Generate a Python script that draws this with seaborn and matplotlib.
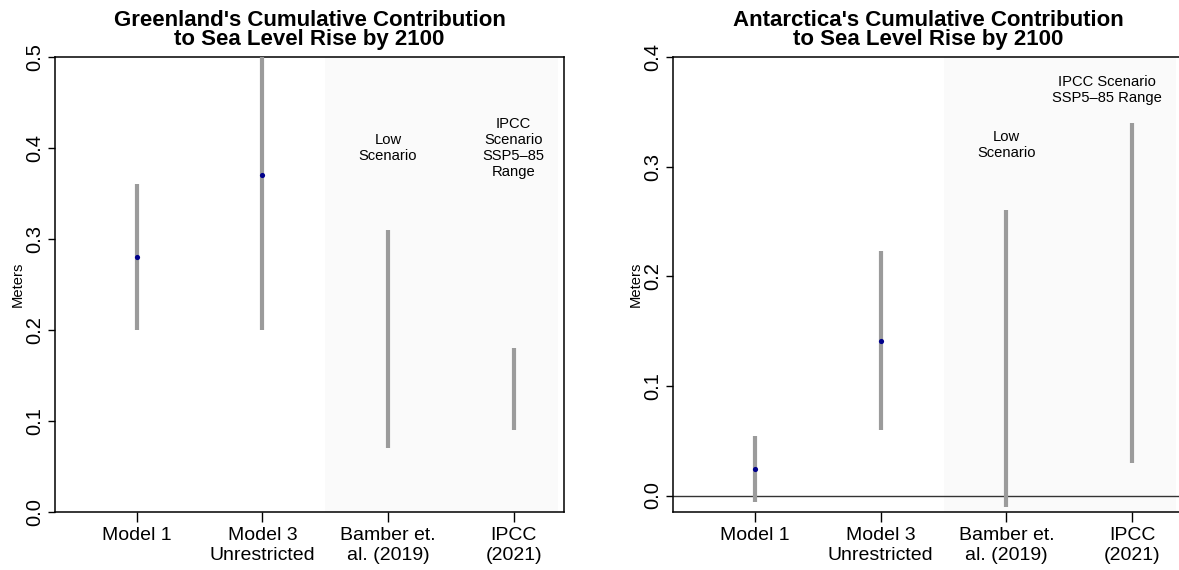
import numpy as np
import pandas as pd
import matplotlib
matplotlib.use("Agg")
import matplotlib.pyplot as plt
import seaborn as sns

# ---------------- data ----------------
categories = ["Model 1", "Model 3\nUnrestricted", "Bamber et.\nal. (2019)", "IPCC\n(2021)"]
positions = [1, 2, 3, 4]

greenland_low = [0.20, 0.20, 0.07, 0.09]
greenland_high = [0.36, 0.50, 0.31, 0.18]
greenland_point = [0.28, 0.37]

antarctica_low = [-0.006, 0.060, -0.010, 0.030]
antarctica_high = [0.054, 0.223, 0.260, 0.340]
antarctica_point = [0.024, 0.141]

greenland_yticks = [0.0, 0.1, 0.2, 0.3, 0.4, 0.5]
antarctica_yticks = [0.0, 0.1, 0.2, 0.3, 0.4]

titles = ["Greenland's Cumulative Contribution\nto Sea Level Rise by 2100",
          "Antarctica's Cumulative Contribution\nto Sea Level Rise by 2100"]

# ---------------- style ----------------
sns.set_style("ticks")
plt.rcParams['font.family'] = ['Liberation Sans', 'DejaVu Sans']
plt.rcParams['text.color'] = 'black'
plt.rcParams['axes.labelcolor'] = 'black'
plt.rcParams['xtick.color'] = 'black'
plt.rcParams['ytick.color'] = 'black'

BAR_COLOR = "#9b9b9b"
PT_COLOR = "#00008B"
SHADE = "#fafafa"

W, H = 1179, 570
fig = plt.figure(figsize=(W / 100, H / 100), dpi=100)
ax1 = fig.add_axes([55 / W, 58 / H, 509 / W, 455 / H])
ax2 = fig.add_axes([673.4 / W, 58 / H, 509 / W, 455 / H])


def draw(ax, low, high, pts, yticks, ylim, title):
    ax.set_xlim(0.35, 4.40)
    ax.set_ylim(*ylim)
    ax.axvspan(2.5, 4.35, ymin=0, ymax=1, color=SHADE, zorder=0, lw=0)
    ax.vlines(positions, low, high, color=BAR_COLOR, lw=3.0, zorder=3,
              capstyle='butt')
    df = pd.DataFrame({"x": positions[:len(pts)], "y": pts})
    sns.scatterplot(data=df, x="x", y="y", ax=ax, color=PT_COLOR, s=14,
                    edgecolor=None, linewidth=0, zorder=5)
    ax.set_xticks(positions)
    ax.set_xticklabels(categories, fontsize=14, color="black")
    ax.set_yticks(yticks)
    ax.set_yticklabels([f"{v:.1f}" for v in yticks], fontsize=14.5,
                       rotation=90, va="center", color="black")
    ax.tick_params(axis="x", length=7, width=1, pad=4, colors="black")
    ax.tick_params(axis="y", length=5, width=1, pad=3, colors="black")
    ax.set_xlabel("")
    ax.set_ylabel("Meters", fontsize=10.6, color="black")
    ax.yaxis.set_label_coords(-0.06, 0.5)
    for s in ax.spines.values():
        s.set_visible(True)
        s.set_color("black")
        s.set_linewidth(1.1)
    ax.set_title(title, fontsize=16, fontweight="bold", pad=9,
                 linespacing=0.85, color="black")


draw(ax1, greenland_low, greenland_high, greenland_point, greenland_yticks,
     (0.0, 0.5), titles[0])
draw(ax2, antarctica_low, antarctica_high, antarctica_point, antarctica_yticks,
     (-0.015, 0.4), titles[1])

ax2.axhline(0, color="#333333", lw=1.0, zorder=2)

ax1.text(3, 0.40, "Low\nScenario", ha="center", va="center", fontsize=10.6)
ax1.text(4, 0.40, "IPCC\nScenario\nSSP5\u201385\nRange", ha="center",
         va="center", fontsize=10.6)
ax2.text(3, 0.32, "Low\nScenario", ha="center", va="center", fontsize=10.6)
ax2.text(3.8, 0.37, "IPCC Scenario\nSSP5\u201385 Range", ha="center",
         va="center", fontsize=10.6)

fig.savefig("out.png", dpi=100, facecolor="white")
